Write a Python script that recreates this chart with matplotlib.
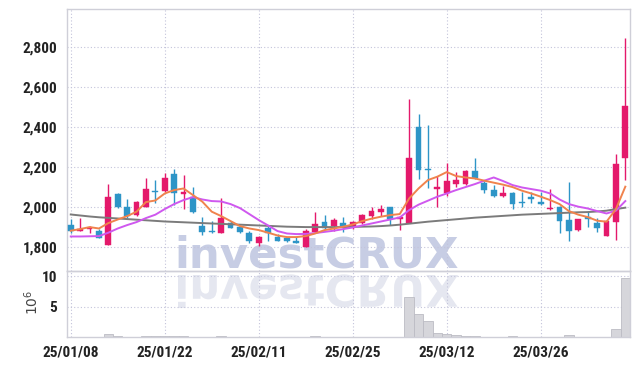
"""Daily candles with 5/20/60-day moving averages and volume (investCRUX style)."""

import matplotlib
matplotlib.use("Agg")
import matplotlib.pyplot as plt
from matplotlib import font_manager
from matplotlib.patches import PathPatch
from matplotlib.textpath import TextPath
from matplotlib.font_manager import FontProperties
from matplotlib.transforms import Affine2D


dates = [
    "25/01/08", "25/01/09", "25/01/10", "25/01/13", "25/01/14", "25/01/15", "25/01/16", "25/01/17",
    "25/01/20", "25/01/21", "25/01/22", "25/01/23", "25/01/24", "25/01/31", "25/02/03", "25/02/04",
    "25/02/05", "25/02/06", "25/02/07", "25/02/10", "25/02/11", "25/02/12", "25/02/13", "25/02/14",
    "25/02/17", "25/02/18", "25/02/19", "25/02/20", "25/02/21", "25/02/24", "25/02/25", "25/02/26",
    "25/02/27", "25/02/28", "25/03/04", "25/03/05", "25/03/06", "25/03/07", "25/03/10", "25/03/11",
    "25/03/12", "25/03/13", "25/03/14", "25/03/17", "25/03/18", "25/03/19", "25/03/20", "25/03/21",
    "25/03/24", "25/03/25", "25/03/26", "25/03/27", "25/03/28", "25/03/31", "25/04/01", "25/04/02",
    "25/04/03", "25/04/04", "25/04/07", "25/04/08",
]
opens = [
    1910, 1882, 1890, 1880, 1810, 2065, 2000, 1958, 2002, 2082,
    2078, 2165, 2067, 2048, 1905, 1880, 1872, 1918, 1902, 1872,
    1818, 1897, 1852, 1843, 1828, 1802, 1877, 1925, 1905, 1918,
    1898, 1918, 1957, 1975, 1998, 1938, 1922, 2402, 2190, 2090,
    2068, 2115, 2113, 2180, 2118, 2085, 2057, 2072, 2025, 2048,
    2027, 1988, 1998, 1935, 1883, 1952, 1918, 1857, 1927, 2243,
]
highs = [
    1938, 1947, 1905, 1890, 2115, 2070, 2040, 2032, 2143, 2137,
    2168, 2188, 2160, 2098, 1948, 1928, 2047, 1930, 1910, 1880,
    1855, 1905, 1863, 1850, 1848, 1890, 1977, 1960, 1943, 1948,
    1930, 1965, 2002, 2010, 2000, 1955, 2538, 2465, 2410, 2155,
    2222, 2177, 2183, 2243, 2130, 2110, 2105, 2075, 2073, 2073,
    2077, 2088, 2003, 2123, 1942, 1980, 1943, 1935, 2263, 2843,
]
lows = [
    1870, 1880, 1870, 1843, 1808, 1995, 1943, 1955, 2000, 2020,
    2075, 2010, 1988, 1968, 1858, 1868, 1870, 1893, 1872, 1822,
    1805, 1830, 1828, 1825, 1818, 1800, 1868, 1888, 1882, 1875,
    1890, 1915, 1940, 1955, 1912, 1885, 1920, 2138, 2093, 1998,
    2055, 2102, 2110, 2140, 2070, 2048, 2048, 1988, 1998, 2018,
    2012, 1987, 1872, 1832, 1882, 1902, 1877, 1855, 1835, 2135,
]
closes = [
    1882, 1887, 1895, 1845, 2052, 1998, 1957, 2025, 2088, 2075,
    2145, 2068, 2073, 1977, 1877, 1876, 1943, 1897, 1877, 1828,
    1852, 1868, 1832, 1828, 1820, 1880, 1915, 1893, 1935, 1898,
    1923, 1960, 1980, 1990, 1938, 1950, 2243, 2185, 2185, 2098,
    2132, 2135, 2178, 2143, 2087, 2057, 2070, 2015, 2020, 2038,
    2013, 1995, 1932, 1882, 1938, 1938, 1897, 1932, 2215, 2505,
]
ma5 = [
    1882, 1890, 1900, 1893, 1920, 1938, 1955, 1977, 2025, 2033,
    2068, 2085, 2093, 2060, 2027, 1977, 1955, 1930, 1905, 1893,
    1885, 1872, 1858, 1850, 1850, 1855, 1868, 1885, 1893, 1902,
    1913, 1930, 1942, 1952, 1960, 1965, 2043, 2093, 2135, 2152,
    2175, 2155, 2148, 2143, 2132, 2122, 2112, 2100, 2082, 2068,
    2052, 2035, 2015, 1980, 1962, 1950, 1932, 1927, 1990, 2102,
]
ma20 = [
    1853, 1853, 1854, 1855, 1872, 1893, 1910, 1925, 1945, 1962,
    1990, 2015, 2035, 2050, 2038, 2030, 2028, 2015, 1995, 1965,
    1935, 1908, 1880, 1868, 1865, 1866, 1870, 1876, 1882, 1890,
    1898, 1908, 1918, 1928, 1938, 1948, 1985, 2012, 2032, 2052,
    2068, 2085, 2100, 2115, 2132, 2148, 2130, 2110, 2098, 2090,
    2082, 2068, 2038, 2015, 2002, 1993, 1980, 1968, 1982, 2030,
]
ma60 = [
    1963, 1958, 1953, 1949, 1946, 1943, 1940, 1937, 1934, 1931,
    1928, 1926, 1924, 1922, 1920, 1918, 1916, 1914, 1912, 1910,
    1908, 1906, 1904, 1902, 1901, 1900, 1900, 1900, 1900, 1900,
    1901, 1902, 1903, 1905, 1908, 1912, 1917, 1922, 1927, 1931,
    1935, 1939, 1943, 1947, 1950, 1953, 1956, 1959, 1962, 1964,
    1966, 1968, 1970, 1972, 1974, 1975, 1978, 1982, 1990, 1997,
]
# volume in millions of shares
volume = [
    0.05, 0.05, 0.05, 0.05, 0.55, 0.15, 0.05, 0.05, 0.15, 0.15,
    0.15, 0.15, 0.15, 0.05, 0.05, 0.05, 0.2, 0.05, 0.05, 0.05,
    0.05, 0.05, 0.05, 0.05, 0.05, 0.05, 0.2, 0.05, 0.05, 0.05,
    0.05, 0.05, 0.05, 0.05, 0.05, 0.05, 6.6, 3.75, 2.6, 0.7,
    0.55, 0.25, 0.15, 0.15, 0.05, 0.05, 0.05, 0.15, 0.05, 0.05,
    0.05, 0.05, 0.05, 0.3, 0.05, 0.05, 0.05, 0.05, 1.37, 9.7,
]
price_ticks = [1800, 2000, 2200, 2400, 2600, 2800]
volume_ticks = [5, 10]
watermark = "investCRUX"

UP, DOWN = "#e4196b", "#2e95c7"
GRID = dict(linestyle=(0, (1, 2)), color="#c3c3da", linewidth=0.8)

available = {f.name for f in font_manager.fontManager.ttflist}
narrow = next((n for n in ["Liberation Sans Narrow", "Roboto Condensed", "DejaVu Sans"] if n in available))
tick_font = FontProperties(family=[narrow, "DejaVu Sans"], weight="bold", size=11)

fig = plt.figure(figsize=(6.39, 3.66), dpi=100)
ax = fig.add_axes([0.10485, 0.2582, 0.8811, 0.7172])
axv = fig.add_axes([0.10485, 0.0792, 0.8811, 0.1790], sharex=ax)
for a in (ax, axv):
    a.set_facecolor("none")
    for spine in a.spines.values():
        spine.set_color("#cfcfd8")
        spine.set_linewidth(1.0)
    a.grid(True, **GRID)
    a.set_axisbelow(True)
    a.tick_params(length=0, colors="#222222")

x = list(range(len(dates)))
colors = [UP if c >= o else DOWN for o, c in zip(opens, closes)]
bottoms = [min(o, c) for o, c in zip(opens, closes)]
heights = [max(abs(c - o), 6) for o, c in zip(opens, closes)]
ax.vlines(x, lows, highs, colors=colors, linewidth=1.0, zorder=2)
ax.bar(x, heights, bottom=bottoms, width=0.62, color=colors, edgecolor=colors, linewidth=0.3, zorder=3)
ax.plot(x, ma60, color="#7b7b7b", linewidth=1.4, zorder=4)
ax.plot(x, ma20, color="#cf58ef", linewidth=1.4, zorder=4)
ax.plot(x, ma5, color="#f0834d", linewidth=1.4, zorder=4)
ax.set_ylim(1678, 2990)
ax.set_xlim(-0.4, 59.5)
ax.set_yticks(price_ticks, labels=[f"{v:,}" for v in price_ticks], fontproperties=tick_font)
ax.tick_params(axis="y", pad=7)
ax.tick_params(labelbottom=False)

axv.bar(x, volume, width=1.0, color="#d6d6db", edgecolor="#bcbcc4", linewidth=0.6, zorder=2)
axv.set_ylim(0, 10.8)
axv.set_yticks(volume_ticks, labels=[str(v) for v in volume_ticks], fontproperties=tick_font)
axv.set_xticks(x[::10], labels=dates[::10], fontproperties=tick_font)
axv.tick_params(axis="y", pad=7)
axv.tick_params(axis="x", pad=6)
fig.text(32 / 639, 1 - 302 / 366, r"$10^{6}$", rotation=90, fontsize=10, color="#444444",
         ha="center", va="center")

# watermark and its mirrored reflection below the panel divider
wm_font = FontProperties(family="DejaVu Sans", weight="bold")
path = TextPath((0, 0), watermark, size=100, prop=wm_font)
ext = path.get_extents()
scale = 280 / ext.width
left_px, base_px = 178 - ext.x0 * scale, 267
fig.text(left_px / 639, 1 - base_px / 366, watermark, fontproperties=wm_font,
         fontsize=100 * scale * 0.72, color="#c7cde4", ha="left", va="baseline", zorder=-1)
mirror = Affine2D().scale(scale / 639, -scale / 366).translate(left_px / 639, 1 - 275 / 366)
fig.add_artist(PathPatch(path, transform=mirror + fig.transFigure, facecolor="#e5e7f0",
                         edgecolor="none", zorder=-1))

fig.savefig("out.png", dpi=100)
